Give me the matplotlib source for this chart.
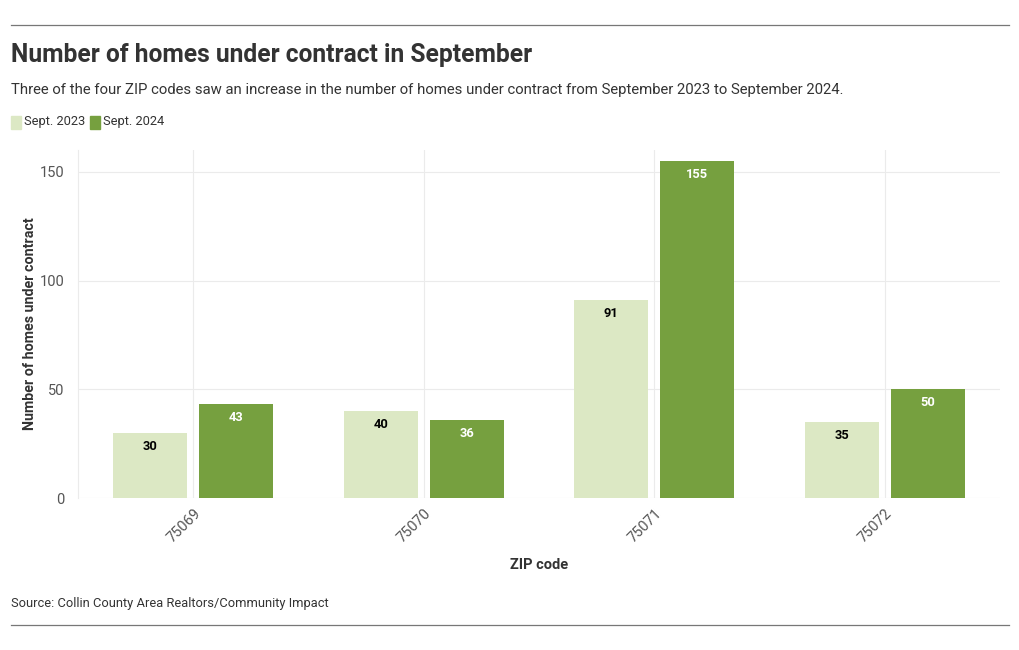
import numpy as np
import matplotlib.pyplot as plt
from matplotlib.lines import Line2D
from matplotlib.patches import Rectangle

# data
zipCodes = ["75069", "75070", "75071", "75072"]
sept2023 = [30, 40, 91, 35]
sept2024 = [43, 36, 155, 50]
seriesNames = ["Sept. 2023", "Sept. 2024"]

lightGreen = "#dce8c4"
darkGreen = "#76a03f"
gridCol = "#ebebeb"
textCol = "#333333"

plt.rcParams['font.family'] = ['Roboto', 'DejaVu Sans']

fig = plt.figure(figsize=(10.2, 6.5), dpi=100)
ax = fig.add_axes([78/1020, 152/650, 922/1020, 348/650])

x = np.arange(len(zipCodes))
w = 0.32
off = 0.187
b1 = ax.bar(x - off, sept2023, w, color=lightGreen, zorder=3)
b2 = ax.bar(x + off, sept2024, w, color=darkGreen, zorder=3)

#-- value labels inside top of bars
for bars, vals, col in [(b1, sept2023, "black"), (b2, sept2024, "white")]:
    for rect, v in zip(bars, vals):
        ax.annotate(str(v), (rect.get_x() + rect.get_width()/2, v),
                    xytext=(0, -5), textcoords="offset points",
                    ha="center", va="top", fontsize=9.3, fontweight="bold",
                    color=col, zorder=4)

ax.set_xlim(-0.5, 3.5)
ax.set_ylim(0, 160)
ax.set_yticks([0, 50, 100, 150])
ax.set_xticks(x)
ax.set_xticklabels(zipCodes, rotation=45, ha="right", rotation_mode="anchor")
ax.tick_params(axis="both", length=0, labelsize=10.5, labelcolor="#555555")
ax.tick_params(axis="y", pad=10)
ax.tick_params(axis="x", pad=6)
ax.grid(True, color=gridCol, linewidth=0.8, zorder=0)
for s in ["top", "right", "bottom"]:
    ax.spines[s].set_visible(False)
ax.spines["left"].set_color(gridCol)
ax.spines["left"].set_linewidth(0.8)

ax.set_ylabel("Number of homes under contract", fontsize=10.3, fontweight="bold",
              color=textCol, labelpad=2)
ax.set_xlabel("ZIP code", fontsize=10.5, fontweight="bold", color=textCol, labelpad=9)

#-- header text
fig.text(11/1020, 1 - 55/650, "Number of homes under contract in September",
         fontsize=17.7, fontweight="bold", color=textCol, va="center")
fig.text(11/1020, 1 - 90/650,
         "Three of the four ZIP codes saw an increase in the number of homes under contract from September 2023 to September 2024.",
         fontsize=10.7, color=textCol, va="center")

# legend
lx = 11
for name, col in zip(seriesNames, [lightGreen, darkGreen]):
    fig.patches.append(Rectangle((lx/1020, 1 - 129/650), 10/1020, 13/650,
                                 transform=fig.transFigure, color=col))
    t = fig.text((lx + 13)/1020, 1 - 122/650, name, fontsize=9.3,
                 color=textCol, va="center")
    lx += 79

fig.text(11/1020, 1 - 603/650, "Source: Collin County Area Realtors/Community Impact",
         fontsize=9.3, color=textCol, va="center")

#-- rules top and bottom
for yy in [25, 625]:
    fig.add_artist(Line2D([11/1020, 1009/1020], [1 - yy/650, 1 - yy/650],
                          color="#777777", linewidth=0.9))

plt.savefig("out.png", dpi=100)
